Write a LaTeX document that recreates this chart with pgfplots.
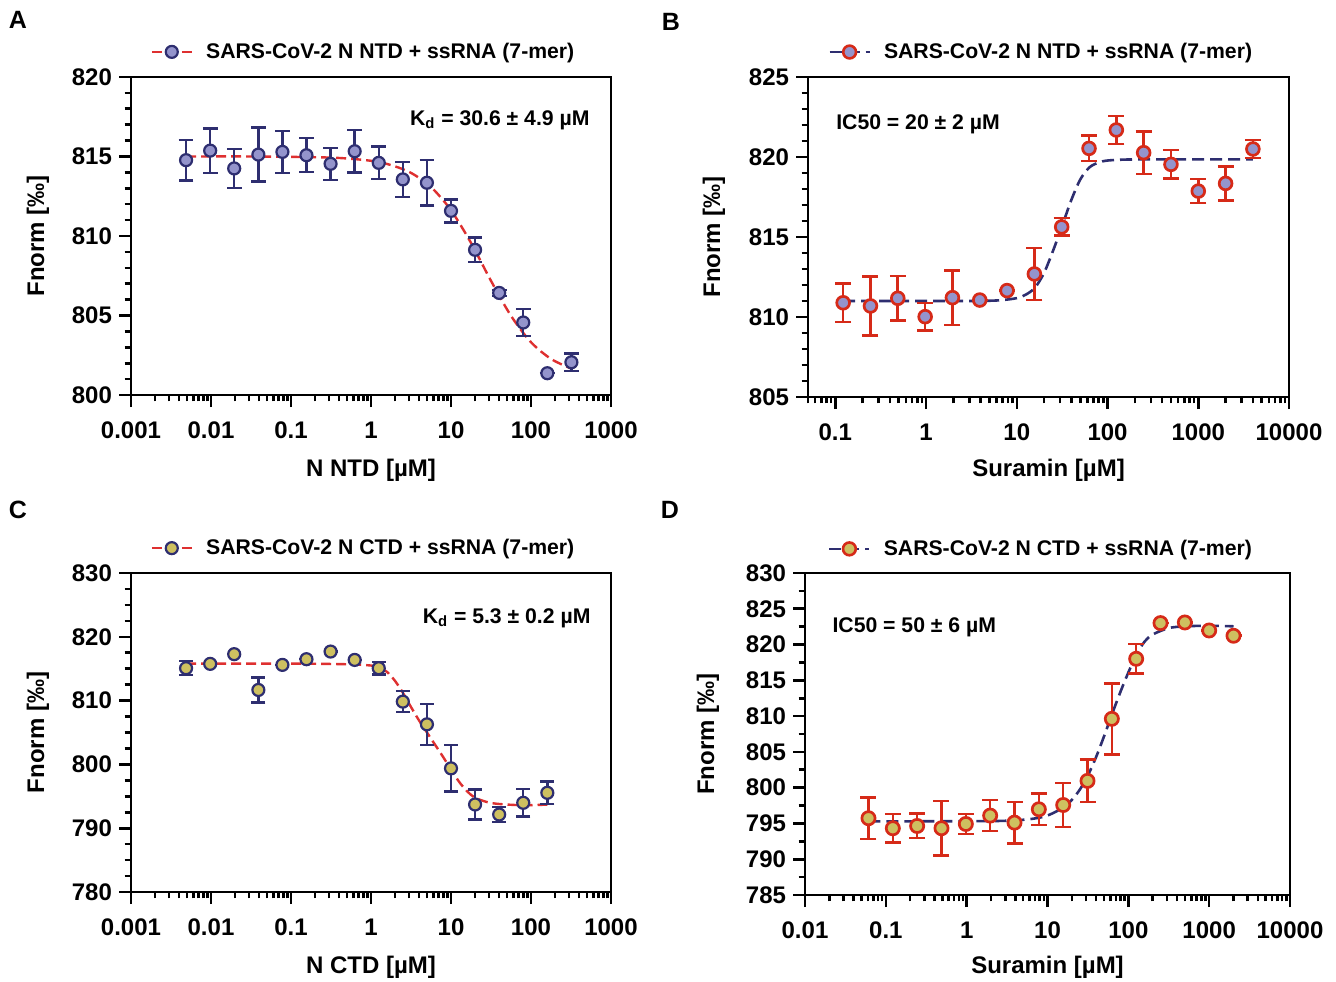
\documentclass[border=0pt]{standalone}
\usepackage{fontspec}
\setmainfont{Liberation Sans}
\usepackage{pgfplots}
\usepackage{pgfplotstable}
\pgfplotsset{compat=1.18}
\definecolor{navyc}{RGB}{46,46,112}
\definecolor{lav}{RGB}{148,148,204}
\definecolor{redc}{RGB}{214,42,24}
\definecolor{redcurve}{RGB}{222,48,48}
\definecolor{yel}{RGB}{206,192,96}

\pgfplotstableread{
x y e
0.00488 814.77 1.28
0.00977 815.37 1.40
0.0195 814.25 1.22
0.0391 815.12 1.70
0.0781 815.29 1.32
0.156 815.08 1.07
0.3125 814.54 1.00
0.625 815.33 1.33
1.25 814.60 1.03
2.5 813.56 1.10
5 813.35 1.43
10 811.58 0.72
20 809.13 0.77
40 806.42 0.20
80 804.56 0.85
160 801.37 0.00
320 802.06 0.56
}\dataA
\pgfplotstableread{
x y
0.0049 815.0
0.0316 815.0
0.316 814.93
1 814.73
1.778 814.46
3.162 813.97
5.623 813.08
10 811.62
17.78 809.57
31.62 807.18
56.23 804.98
100 803.32
177.8 802.27
320 801.66
}\fitA
\pgfplotstableread{
x y e
0.122 810.89 1.20
0.244 810.69 1.85
0.488 811.17 1.40
0.977 810.02 0.85
1.953 811.21 1.70
3.906 811.06 0.00
7.8125 811.65 0.00
15.625 812.69 1.63
31.25 815.63 0.55
62.5 820.54 0.80
125 821.69 0.87
250 820.27 1.33
500 819.54 0.90
1000 817.87 0.75
2000 818.35 1.05
4000 820.50 0.57
}\dataB
\pgfplotstableread{
x y
0.122 811.0
1 811.0
3.162 811.0
6.31 811.04
10 811.18
12.59 811.40
15.85 811.83
19.95 812.75
25.12 814.15
31.62 815.70
39.81 817.30
50.12 818.60
63.1 819.35
79.43 819.65
100 819.78
158.5 819.84
316 819.85
4000 819.85
}\fitB
\pgfplotstableread{
x y e
0.00488 815.08 1.10
0.00977 815.76 0.00
0.0195 817.28 0.00
0.0391 811.67 1.96
0.0781 815.60 0.00
0.156 816.49 0.00
0.3125 817.69 0.00
0.625 816.38 0.00
1.25 815.08 1.00
2.5 809.84 1.65
5 806.28 3.20
10 799.38 3.65
20 793.72 2.35
40 792.15 1.20
80 793.98 2.15
160 795.55 1.75
}\dataC
\pgfplotstableread{
x y
0.0049 815.8
0.1 815.8
0.5 815.7
1 815.5
1.259 815.2
1.585 814.5
1.995 813.1
2.512 811.2
3.162 809.0
3.981 806.9
5.012 805.0
6.31 803.1
7.943 801.2
10 799.2
12.59 797.3
15.85 795.8
19.95 794.8
28.18 794.1
39.81 793.8
79.43 793.6
160 793.7
}\fitC
\pgfplotstableread{
x y e
0.061 795.73 2.90
0.122 794.33 2.00
0.244 794.65 1.70
0.488 794.33 3.80
0.977 794.93 1.40
1.953 796.10 2.15
3.906 795.12 2.90
7.8125 796.98 2.20
15.625 797.58 3.10
31.25 800.95 2.95
62.5 809.62 4.95
125 818.01 2.05
250 823.00 0.00
500 823.09 0.00
1000 821.97 0.00
2000 821.23 0.00
}\dataD
\pgfplotstableread{
x y
0.061 795.3
1 795.31
3.162 795.38
6.31 795.63
10 796.11
15.85 797.26
19.95 798.28
25.12 799.74
31.62 801.72
39.81 804.25
50.12 807.20
63.1 810.33
79.43 813.32
100 816.1
125.9 818.6
158.5 820.4
199.5 821.4
316.2 822.3
501.2 822.55
1000 822.63
2000 822.55
}\fitD

\newcommand{\lfont}{\bfseries\fontsize{12}{14}\selectfont}
\newcommand{\sfont}{\bfseries\fontsize{10.6}{12.5}\selectfont}

\pgfplotsset{
  myPanel/.style={
    scale only axis,
    tick pos=left, tick align=outside,
    axis line style={line width=1.4pt},
    tick style={line width=1.3pt, black},
    major tick length=6pt, minor tick length=3.2pt,
    tick label style={font=\lfont},
    xticklabel style={yshift=-4pt},
    yticklabel style={/pgf/number format/assume math mode=true},
    ylabel={Fnorm [‰]},
    legend style={draw=none, fill=none, anchor=west, inner sep=0pt, font=\sfont},
    legend cell align=left,
  },
  xlab/.style={every axis x label/.style={at={(rel axis cs:0.5,0)}, yshift=-#1, anchor=center, font=\lfont}},
  ylab/.style={every axis y label/.style={at={(rel axis cs:0,0.5)}, xshift=-#1, rotate=90, anchor=center, font=\lfont}},
}

\begin{document}
\begin{tikzpicture}
\useasboundingbox (0,0) rectangle (668pt,490.5pt);

% ---------------- A ----------------
\begin{semilogxaxis}[myPanel, anchor=south west, at={(65.5pt,293pt)}, width=240pt, height=159pt,
  xmin=0.001, xmax=1000, ymin=800, ymax=820,
  xtick={0.001,0.01,0.1,1,10,100,1000},
  xticklabels={0.001,0.01,0.1,1,10,100,1000},
  ytick={800,805,810,815,820}, minor y tick num=4,
  xlabel={N NTD [µM]}, xlab=37.5pt, ylab=46.5pt,
  legend style={at={(0.04,1.079)}}]
\addlegendimage{legend image code/.code={
  \draw[redcurve, line width=1.2pt, dash pattern=on 5pt off 2.5pt] (0pt,0pt) -- (20pt,0pt);
  \draw[fill=lav, draw=navyc, line width=1.1pt] (10pt,0pt) circle (3pt);
  \path (25pt,0pt);}}
\addlegendentry{SARS-CoV-2 N NTD + ssRNA (7-mer)}
\addplot[redcurve, line width=1.2pt, dash pattern=on 5pt off 2.5pt, smooth, forget plot] table[x=x,y=y] {\fitA};
\addplot[draw=none, mark=none, forget plot,
  error bars/y dir=both, error bars/y explicit,
  error bars/error bar style={line width=1.2pt, draw=navyc},
  error bars/error mark options={rotate=90, line width=1.2pt, mark size=3.7pt, draw=navyc}]
  table[x=x,y=y,y error=e] {\dataA};
\addplot[only marks, mark=*, mark size=3pt, forget plot, mark options={fill=lav, draw=navyc, line width=1.1pt}] table[x=x,y=y] {\dataA};
\node[anchor=east, inner sep=0pt, font=\sfont] at (rel axis cs:0.956,0.865) {K\textsubscript{d} = 30.6 ± 4.9 µM};
\end{semilogxaxis}

% ---------------- B ----------------
\begin{semilogxaxis}[myPanel, anchor=south west, at={(404pt,292pt)}, width=240.5pt, height=160pt,
  xmin=0.05, xmax=10000, ymin=805, ymax=825,
  xtick={0.1,1,10,100,1000,10000},
  xticklabels={0.1,1,10,100,1000,10000},
  minor xtick={0.05,0.06,0.07,0.08,0.09,0.2,0.3,0.4,0.5,0.6,0.7,0.8,0.9,2,3,4,5,6,7,8,9,20,30,40,50,60,70,80,90,200,300,400,500,600,700,800,900,2000,3000,4000,5000,6000,7000,8000,9000},
  ytick={805,810,815,820,825}, minor y tick num=4,
  xlabel={Suramin [µM]}, xlab=36.5pt, ylab=47pt,
  legend style={at={(0.0416,1.078)}}]
\addlegendimage{legend image code/.code={
  \draw[navyc, line width=1.2pt, dash pattern=on 6pt off 3pt] (0pt,0pt) -- (20pt,0pt);
  \draw[fill=lav, draw=redc, line width=1.3pt] (10pt,0pt) circle (3.2pt);
  \path (25pt,0pt);}}
\addlegendentry{SARS-CoV-2 N NTD + ssRNA (7-mer)}
\addplot[navyc, line width=1.3pt, dash pattern=on 6pt off 3pt, smooth, forget plot] table[x=x,y=y] {\fitB};
\addplot[draw=none, mark=none, forget plot,
  error bars/y dir=both, error bars/y explicit,
  error bars/error bar style={line width=1.3pt, draw=redc},
  error bars/error mark options={rotate=90, line width=1.3pt, mark size=4pt, draw=redc}]
  table[x=x,y=y,y error=e] {\dataB};
\addplot[only marks, mark=*, mark size=3.2pt, forget plot, mark options={fill=lav, draw=redc, line width=1.35pt}] table[x=x,y=y] {\dataB};
\node[anchor=west, inner sep=0pt, font=\sfont] at (rel axis cs:0.058,0.853) {IC50 = 20 ± 2 µM};
\end{semilogxaxis}

% ---------------- C ----------------
\begin{semilogxaxis}[myPanel, anchor=south west, at={(65.5pt,44.5pt)}, width=240pt, height=159.5pt,
  xmin=0.001, xmax=1000, ymin=780, ymax=830,
  xtick={0.001,0.01,0.1,1,10,100,1000},
  xticklabels={0.001,0.01,0.1,1,10,100,1000},
  ytick={780,790,800,810,820,830}, minor y tick num=3,
  xlabel={N CTD [µM]}, xlab=37.5pt, ylab=46.5pt,
  legend style={at={(0.04,1.078)}}]
\addlegendimage{legend image code/.code={
  \draw[redcurve, line width=1.2pt, dash pattern=on 5pt off 2.5pt] (0pt,0pt) -- (20pt,0pt);
  \draw[fill=yel, draw=navyc, line width=1.1pt] (10pt,0pt) circle (3pt);
  \path (25pt,0pt);}}
\addlegendentry{SARS-CoV-2 N CTD + ssRNA (7-mer)}
\addplot[redcurve, line width=1.2pt, dash pattern=on 5pt off 2.5pt, smooth, forget plot] table[x=x,y=y] {\fitC};
\addplot[draw=none, mark=none, forget plot,
  error bars/y dir=both, error bars/y explicit,
  error bars/error bar style={line width=1.2pt, draw=navyc},
  error bars/error mark options={rotate=90, line width=1.2pt, mark size=3.5pt, draw=navyc}]
  table[x=x,y=y,y error=e] {\dataC};
\addplot[only marks, mark=*, mark size=3pt, forget plot, mark options={fill=yel, draw=navyc, line width=1.1pt}] table[x=x,y=y] {\dataC};
\node[anchor=east, inner sep=0pt, font=\sfont] at (rel axis cs:0.958,0.859) {K\textsubscript{d} = 5.3 ± 0.2 µM};
\end{semilogxaxis}

% ---------------- D ----------------
\begin{semilogxaxis}[myPanel, anchor=south west, at={(402.5pt,43pt)}, width=242.5pt, height=161pt,
  xmin=0.01, xmax=10000, ymin=785, ymax=830,
  xtick={0.01,0.1,1,10,100,1000,10000},
  xticklabels={0.01,0.1,1,10,100,1000,10000},
  ytick={785,790,795,800,805,810,815,820,825,830}, minor y tick num=1,
  xlabel={Suramin [µM]}, xlab=36pt, ylab=48.5pt,
  legend style={at={(0.047,1.075)}}]
\addlegendimage{legend image code/.code={
  \draw[navyc, line width=1.2pt, dash pattern=on 6pt off 3pt] (0pt,0pt) -- (20pt,0pt);
  \draw[fill=yel, draw=redc, line width=1.3pt] (10pt,0pt) circle (3.2pt);
  \path (25pt,0pt);}}
\addlegendentry{SARS-CoV-2 N CTD + ssRNA (7-mer)}
\addplot[navyc, line width=1.3pt, dash pattern=on 6pt off 3pt, smooth, forget plot] table[x=x,y=y] {\fitD};
\addplot[draw=none, mark=none, forget plot,
  error bars/y dir=both, error bars/y explicit,
  error bars/error bar style={line width=1.3pt, draw=redc},
  error bars/error mark options={rotate=90, line width=1.3pt, mark size=4pt, draw=redc}]
  table[x=x,y=y,y error=e] {\dataD};
\addplot[only marks, mark=*, mark size=3.3pt, forget plot, mark options={fill=yel, draw=redc, line width=1.35pt}] table[x=x,y=y] {\dataD};
\node[anchor=west, inner sep=0pt, font=\sfont] at (rel axis cs:0.056,0.832) {IC50 = 50 ± 6 µM};
\end{semilogxaxis}

\node[font=\bfseries\fontsize{12.5}{14}\selectfont] at (9pt,480.5pt) {A};
\node[font=\bfseries\fontsize{12.5}{14}\selectfont] at (335.5pt,479.5pt) {B};
\node[font=\bfseries\fontsize{12.5}{14}\selectfont] at (9pt,235.5pt) {C};
\node[font=\bfseries\fontsize{12.5}{14}\selectfont] at (335pt,235.5pt) {D};
\end{tikzpicture}
\end{document}
